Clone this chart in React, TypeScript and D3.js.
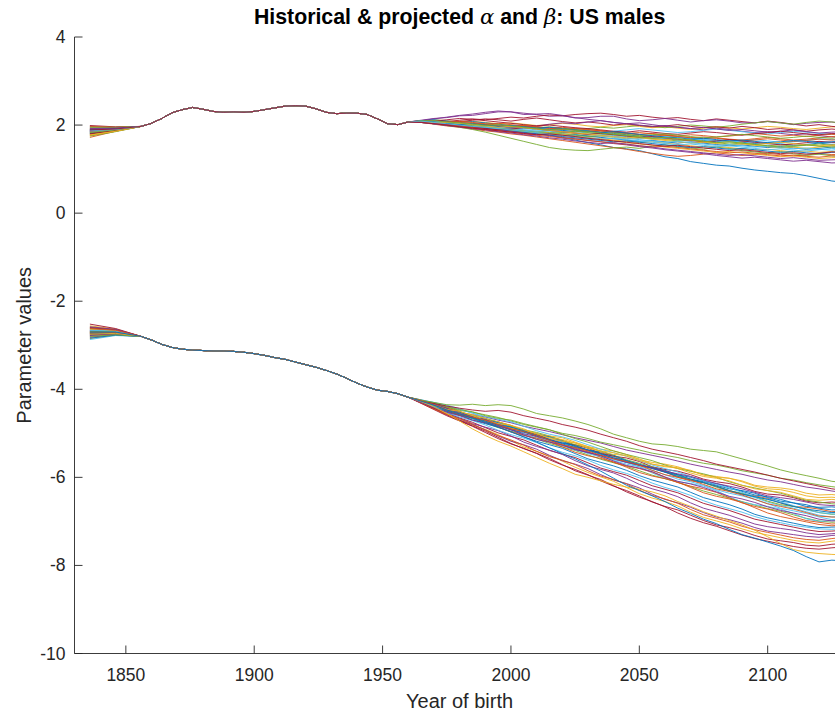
import React from "react";
import * as d3 from "d3";

// ---------- DATA ----------
const xTicks = [1850, 1900, 1950, 2000, 2050, 2100];
const yTicks = [-10, -8, -6, -4, -2, 0, 2, 4];

// common historical path (all simulations coincide), every 4 years
const histYears = [1856,1860,1864,1868,1872,1876,1880,1884,1888,1892,1896,1900,1904,1908,1912,1916,1920,1924,1928,1932,1936,1940,1944,1948,1952,1956,1960];
const alphaHist = [1.97,2.04,2.15,2.28,2.35,2.40,2.36,2.31,2.29,2.30,2.29,2.31,2.35,2.39,2.43,2.44,2.43,2.37,2.29,2.26,2.27,2.27,2.24,2.14,2.03,2.01,2.07];
const betaHist = [-2.80,-2.88,-2.98,-3.05,-3.09,-3.11,-3.12,-3.13,-3.13,-3.14,-3.16,-3.19,-3.23,-3.28,-3.32,-3.38,-3.44,-3.50,-3.57,-3.65,-3.75,-3.86,-3.95,-4.02,-4.05,-4.10,-4.18];

// early spread of each simulation (years 1836 and 1846)
const earlyYears = [1836, 1846];
const alphaStart = [1.85,1.72,1.90,1.96,1.80,1.88,1.99,1.83,1.76,1.92,1.86,1.79,1.94,1.87,1.81,1.97,1.84,1.89,1.75,1.91,1.82,1.86,1.93,1.78,1.88,1.95,1.84,1.80,1.90,1.86,1.77,1.92,1.83,1.87,1.89];
const alphaEarly = [1.91,1.86,1.92,1.95,1.88,1.91,1.96,1.89,1.86,1.93,1.90,1.87,1.94,1.91,1.88,1.95,1.89,1.92,1.85,1.93,1.88,1.90,1.94,1.87,1.91,1.95,1.89,1.88,1.92,1.90,1.86,1.93,1.89,1.90,1.91];
const betaStart = [-2.70,-2.62,-2.75,-2.58,-2.80,-2.66,-2.52,-2.84,-2.72,-2.64,-2.78,-2.68,-2.87,-2.60,-2.74,-2.69,-2.56,-2.82,-2.71,-2.65,-2.77,-2.63,-2.73,-2.85,-2.67,-2.59,-2.79,-2.70,-2.76,-2.61,-2.81,-2.66,-2.72,-2.68,-2.74];
const betaEarly = [-2.70,-2.66,-2.73,-2.64,-2.76,-2.68,-2.62,-2.77,-2.71,-2.67,-2.74,-2.69,-2.78,-2.65,-2.72,-2.70,-2.63,-2.76,-2.71,-2.67,-2.74,-2.66,-2.72,-2.77,-2.69,-2.64,-2.75,-2.70,-2.73,-2.65,-2.76,-2.68,-2.71,-2.69,-2.72];

// projected years (every 5 years)
const projYears = [1965,1970,1975,1980,1985,1990,1995,2000,2005,2010,2015,2020,2025,2030,2035,2040,2045,2050,2055,2060,2065,2070,2075,2080,2085,2090,2095,2100,2105,2110,2115,2120,2125,2130];

const alphaPaths = [
  [2.07,2.05,2.02,1.99,1.97,1.93,1.90,1.88,1.84,1.80,1.77,1.71,1.66,1.60,1.55,1.49,1.46,1.42,1.35,1.28,1.24,1.17,1.13,1.09,1.07,1.02,0.98,0.95,0.92,0.90,0.85,0.79,0.73,0.70],
  [2.06,2.02,1.98,1.95,1.91,1.87,1.84,1.80,1.77,1.73,1.69,1.65,1.61,1.57,1.53,1.49,1.45,1.40,1.36,1.32,1.29,1.31,1.34,1.37,1.34,1.31,1.33,1.36,1.33,1.30,1.32,1.35,1.33,1.34],
  [2.09,2.12,2.10,2.07,2.09,2.06,2.03,2.05,2.02,1.99,2.01,2.04,2.02,1.98,1.96,1.99,2.01,1.97,1.94,1.96,1.93,1.90,1.93,1.96,1.94,1.91,1.94,1.97,1.95,1.92,1.90,1.93,1.96,1.95],
  [2.10,2.14,2.18,2.22,2.25,2.29,2.32,2.30,2.27,2.24,2.20,2.21,2.17,2.13,2.10,2.06,2.03,2.05,2.01,1.97,1.95,1.92,1.89,1.93,1.90,1.86,1.83,1.85,1.81,1.78,1.80,1.76,1.73,1.75],
  [2.06,2.03,1.99,1.95,1.90,1.84,1.77,1.70,1.63,1.56,1.49,1.45,1.43,1.42,1.45,1.48,1.50,1.47,1.52,1.55,1.51,1.48,1.45,1.50,1.47,1.42,1.39,1.36,1.40,1.35,1.31,1.34,1.30,1.27],
  [2.09,2.11,2.09,2.06,2.03,2.01,1.98,1.95,1.92,1.94,1.91,1.88,1.90,1.87,1.84,1.86,1.89,1.92,1.89,1.86,1.83,1.85,1.88,1.91,1.88,1.85,1.82,1.80,1.83,1.86,1.84,1.81,1.79,1.82],
  [2.08,2.10,2.08,2.11,2.14,2.12,2.15,2.18,2.16,2.20,2.23,2.21,2.24,2.26,2.27,2.24,2.20,2.22,2.18,2.15,2.17,2.13,2.10,2.14,2.11,2.08,2.05,2.09,2.06,2.02,1.98,2.01,1.97,1.95],
  [2.10,2.12,2.09,2.06,2.08,2.05,2.02,1.99,1.96,1.93,1.90,1.88,1.85,1.87,1.84,1.81,1.78,1.75,1.72,1.69,1.66,1.68,1.65,1.62,1.64,1.61,1.58,1.60,1.57,1.54,1.56,1.59,1.56,1.58],
  [2.08,2.05,2.03,2.06,2.04,2.01,1.98,1.96,1.99,1.96,1.93,1.90,1.93,1.90,1.87,1.84,1.82,1.79,1.81,1.78,1.75,1.78,1.76,1.73,1.75,1.78,1.81,1.78,1.75,1.77,1.74,1.77,1.79,1.76],
  [2.08,2.04,2.01,1.97,1.94,1.91,1.88,1.85,1.87,1.84,1.81,1.78,1.75,1.72,1.69,1.66,1.63,1.60,1.62,1.59,1.56,1.53,1.50,1.52,1.49,1.46,1.43,1.45,1.42,1.39,1.41,1.38,1.40,1.42],
  [2.11,2.15,2.17,2.21,2.22,2.26,2.30,2.30,2.24,2.25,2.26,2.22,2.16,2.17,2.20,2.20,2.14,2.10,2.12,2.15,2.11,2.07,2.10,2.12,2.09,2.05,2.05,2.08,2.05,2.01,2.04,2.06,2.07,2.03],
  [2.07,2.05,2.04,2.01,1.99,2.02,1.98,1.95,1.97,1.94,1.96,1.93,1.90,1.92,1.95,1.93,1.96,1.99,1.97,1.94,1.97,2.00,1.98,1.95,1.98,2.02,2.05,2.08,2.05,2.02,2.06,2.09,2.07,2.04],
  [2.06,2.03,2.01,1.98,2.00,1.98,1.95,1.92,1.89,1.86,1.84,1.81,1.79,1.76,1.73,1.75,1.72,1.69,1.72,1.75,1.73,1.70,1.67,1.65,1.62,1.64,1.67,1.64,1.61,1.63,1.66,1.69,1.67,1.66],
  [2.06,2.03,2.05,2.08,2.11,2.14,2.12,2.09,2.13,2.16,2.12,2.08,2.05,2.07,2.04,2.00,2.03,1.99,1.96,1.98,2.01,1.97,1.94,1.96,1.93,1.97,1.94,1.90,1.92,1.89,1.86,1.89,1.91,1.88],
  [2.08,2.06,2.04,2.01,1.97,1.94,1.91,1.88,1.85,1.82,1.79,1.76,1.78,1.75,1.72,1.69,1.66,1.63,1.65,1.62,1.59,1.62,1.59,1.56,1.53,1.55,1.52,1.49,1.51,1.48,1.45,1.47,1.50,1.49],
  [2.07,2.04,2.06,2.03,2.05,2.02,2.04,2.01,1.98,1.96,1.93,1.95,1.92,1.89,1.87,1.84,1.81,1.78,1.75,1.77,1.74,1.72,1.69,1.71,1.68,1.66,1.69,1.72,1.69,1.66,1.68,1.71,1.74,1.71],
  [2.07,2.05,2.02,1.99,1.97,1.94,1.91,1.88,1.85,1.82,1.79,1.76,1.73,1.70,1.67,1.64,1.60,1.57,1.54,1.50,1.47,1.44,1.41,1.38,1.40,1.37,1.34,1.31,1.28,1.30,1.27,1.24,1.26,1.27],
  [2.08,2.06,2.02,2.00,1.96,1.99,1.97,1.93,1.95,1.98,2.02,2.05,2.03,2.07,2.10,2.06,2.03,2.00,1.97,1.99,1.95,1.92,1.95,1.91,1.88,1.90,1.87,1.84,1.86,1.89,1.85,1.82,1.84,1.85],
  [2.08,2.06,2.03,1.99,1.96,1.93,1.90,1.87,1.84,1.86,1.83,1.80,1.77,1.74,1.76,1.79,1.76,1.73,1.70,1.67,1.64,1.66,1.63,1.60,1.57,1.59,1.56,1.53,1.55,1.52,1.54,1.57,1.54,1.55],
  [2.07,2.08,2.05,2.03,2.00,1.96,1.93,1.90,1.92,1.89,1.86,1.83,1.85,1.82,1.79,1.76,1.74,1.71,1.68,1.70,1.73,1.70,1.67,1.64,1.61,1.63,1.60,1.57,1.59,1.62,1.65,1.62,1.60,1.62],
  [2.07,2.09,2.12,2.15,2.13,2.10,2.07,2.04,2.01,1.98,2.00,1.97,1.94,1.92,1.89,1.86,1.84,1.87,1.84,1.81,1.79,1.82,1.85,1.83,1.80,1.77,1.80,1.83,1.86,1.83,1.80,1.78,1.81,1.80],
  [2.07,2.04,2.02,1.99,1.96,1.93,1.90,1.86,1.83,1.80,1.77,1.74,1.71,1.68,1.65,1.62,1.64,1.61,1.58,1.55,1.52,1.49,1.51,1.48,1.45,1.47,1.44,1.41,1.38,1.40,1.37,1.35,1.38,1.40],
  [2.08,2.10,2.07,2.09,2.06,2.03,2.00,1.97,1.99,1.96,1.93,1.91,1.88,1.85,1.87,1.84,1.81,1.83,1.80,1.77,1.74,1.71,1.73,1.70,1.67,1.64,1.66,1.69,1.66,1.63,1.65,1.68,1.66,1.68],
  [2.06,2.04,2.01,1.98,1.95,1.97,1.94,1.91,1.88,1.85,1.82,1.79,1.81,1.78,1.75,1.72,1.69,1.71,1.68,1.65,1.62,1.59,1.61,1.58,1.55,1.57,1.54,1.51,1.48,1.50,1.47,1.50,1.53,1.51],
  [2.08,2.05,2.02,1.98,1.95,1.92,1.89,1.86,1.82,1.79,1.76,1.72,1.69,1.65,1.62,1.58,1.55,1.51,1.48,1.44,1.41,1.38,1.35,1.31,1.28,1.25,1.27,1.24,1.21,1.18,1.20,1.17,1.14,1.15],
  [2.10,2.08,2.05,2.02,1.99,1.97,1.94,1.90,1.87,1.84,1.81,1.83,1.86,1.83,1.80,1.82,1.79,1.76,1.78,1.80,1.77,1.74,1.71,1.73,1.76,1.79,1.76,1.73,1.70,1.72,1.75,1.72,1.70,1.74],
  [2.07,2.09,2.06,2.04,2.01,1.98,1.95,1.92,1.89,1.86,1.88,1.85,1.82,1.79,1.76,1.73,1.70,1.67,1.64,1.61,1.63,1.60,1.57,1.54,1.56,1.53,1.50,1.52,1.49,1.46,1.48,1.45,1.43,1.47],
  [2.08,2.05,2.02,1.98,1.95,1.92,1.89,1.91,1.94,1.91,1.88,1.85,1.82,1.79,1.81,1.78,1.75,1.72,1.74,1.71,1.68,1.65,1.62,1.64,1.67,1.64,1.61,1.58,1.55,1.57,1.60,1.63,1.61,1.60],
  [2.09,2.07,2.04,2.01,2.03,2.00,1.97,1.99,1.96,1.93,1.95,1.92,1.89,1.86,1.83,1.85,1.82,1.79,1.76,1.73,1.71,1.68,1.70,1.67,1.64,1.66,1.63,1.60,1.62,1.65,1.63,1.60,1.62,1.64],
  [2.08,2.05,2.01,1.98,1.94,1.90,1.87,1.84,1.80,1.77,1.74,1.71,1.68,1.65,1.62,1.59,1.56,1.53,1.50,1.52,1.49,1.46,1.43,1.40,1.37,1.39,1.36,1.33,1.30,1.32,1.29,1.27,1.30,1.31],
  [2.07,2.05,2.06,2.04,2.01,1.98,1.95,1.97,1.94,1.91,1.88,1.85,1.82,1.80,1.77,1.74,1.71,1.73,1.70,1.67,1.69,1.66,1.63,1.60,1.62,1.59,1.56,1.58,1.61,1.58,1.55,1.53,1.55,1.57],
  [2.06,2.03,1.99,1.96,1.92,1.89,1.85,1.82,1.78,1.75,1.71,1.68,1.64,1.61,1.58,1.60,1.57,1.53,1.50,1.46,1.43,1.40,1.37,1.34,1.31,1.33,1.30,1.27,1.24,1.26,1.23,1.20,1.21,1.22],
  [2.09,2.10,2.07,2.05,2.02,1.99,2.01,1.98,1.95,1.92,1.89,1.91,1.88,1.85,1.82,1.79,1.76,1.73,1.70,1.72,1.69,1.66,1.63,1.60,1.62,1.59,1.56,1.53,1.50,1.52,1.55,1.52,1.50,1.53],
  [2.09,2.06,2.03,2.00,1.97,1.95,1.92,1.89,1.86,1.83,1.80,1.77,1.74,1.71,1.68,1.70,1.67,1.64,1.61,1.58,1.55,1.57,1.54,1.51,1.53,1.50,1.47,1.44,1.46,1.43,1.41,1.44,1.47,1.45],
  [2.06,2.03,2.00,1.96,1.93,1.90,1.87,1.84,1.81,1.78,1.80,1.77,1.74,1.70,1.67,1.64,1.61,1.58,1.55,1.52,1.54,1.51,1.48,1.45,1.42,1.44,1.41,1.38,1.35,1.37,1.34,1.36,1.39,1.37],
];

const betaPaths = [
  [-4.27,-4.36,-4.47,-4.56,-4.66,-4.75,-4.86,-4.97,-5.08,-5.20,-5.33,-5.46,-5.58,-5.72,-5.86,-6.02,-6.18,-6.30,-6.42,-6.55,-6.70,-6.82,-6.95,-7.05,-7.18,-7.30,-7.38,-7.47,-7.56,-7.66,-7.80,-7.92,-7.88,-7.90],
  [-4.26,-4.35,-4.47,-4.57,-4.63,-4.70,-4.80,-4.90,-4.96,-5.04,-5.16,-5.26,-5.32,-5.40,-5.50,-5.58,-5.64,-5.72,-5.84,-5.94,-6.00,-6.06,-6.16,-6.26,-6.32,-6.40,-6.50,-6.60,-6.66,-6.72,-6.80,-6.88,-6.90,-6.91],
  [-4.28,-4.40,-4.55,-4.72,-4.90,-5.05,-5.18,-5.29,-5.42,-5.55,-5.68,-5.80,-5.93,-6.00,-6.08,-6.16,-6.22,-6.27,-6.33,-6.42,-6.55,-6.66,-6.78,-6.88,-6.98,-7.08,-7.20,-7.35,-7.50,-7.64,-7.70,-7.73,-7.75,-7.76],
  [-4.30,-4.42,-4.52,-4.60,-4.70,-4.76,-4.84,-4.92,-5.04,-5.14,-5.20,-5.26,-5.36,-5.44,-5.50,-5.58,-5.66,-5.72,-5.78,-5.86,-5.92,-5.98,-6.06,-6.14,-6.20,-6.26,-6.34,-6.42,-6.46,-6.50,-6.56,-6.62,-6.64,-6.66],
  [-4.25,-4.30,-4.35,-4.36,-4.34,-4.37,-4.35,-4.37,-4.45,-4.55,-4.60,-4.65,-4.72,-4.80,-4.90,-5.02,-5.10,-5.18,-5.24,-5.26,-5.30,-5.36,-5.39,-5.42,-5.50,-5.58,-5.66,-5.74,-5.83,-5.90,-5.96,-6.02,-6.09,-6.12],
  [-4.28,-4.39,-4.53,-4.63,-4.71,-4.81,-4.93,-5.03,-5.11,-5.21,-5.33,-5.43,-5.51,-5.61,-5.73,-5.83,-5.91,-6.01,-6.13,-6.23,-6.31,-6.41,-6.53,-6.63,-6.71,-6.79,-6.89,-6.97,-7.03,-7.09,-7.13,-7.17,-7.18,-7.16],
  [-4.26,-4.32,-4.38,-4.43,-4.47,-4.50,-4.48,-4.52,-4.60,-4.66,-4.72,-4.80,-4.86,-4.93,-5.02,-5.10,-5.18,-5.28,-5.36,-5.42,-5.48,-5.55,-5.62,-5.70,-5.76,-5.82,-5.88,-5.95,-6.02,-6.08,-6.14,-6.20,-6.26,-6.30],
  [-4.29,-4.39,-4.50,-4.58,-4.64,-4.72,-4.82,-4.92,-4.98,-5.04,-5.14,-5.24,-5.32,-5.38,-5.46,-5.56,-5.66,-5.72,-5.78,-5.88,-5.98,-6.06,-6.12,-6.20,-6.30,-6.38,-6.44,-6.50,-6.58,-6.66,-6.72,-6.76,-6.80,-6.79],
  [-4.31,-4.45,-4.57,-4.67,-4.79,-4.93,-5.05,-5.15,-5.27,-5.41,-5.53,-5.61,-5.71,-5.85,-5.97,-6.05,-6.15,-6.29,-6.41,-6.49,-6.59,-6.73,-6.85,-6.93,-7.01,-7.11,-7.19,-7.25,-7.31,-7.37,-7.41,-7.43,-7.39,-7.36],
  [-4.26,-4.38,-4.46,-4.50,-4.60,-4.72,-4.78,-4.82,-4.90,-5.02,-5.10,-5.14,-5.22,-5.34,-5.40,-5.44,-5.52,-5.62,-5.70,-5.74,-5.80,-5.90,-5.98,-6.02,-6.08,-6.18,-6.26,-6.30,-6.34,-6.42,-6.50,-6.52,-6.50,-6.53],
  [-4.25,-4.33,-4.43,-4.55,-4.63,-4.69,-4.79,-4.91,-5.01,-5.07,-5.15,-5.27,-5.37,-5.43,-5.51,-5.63,-5.73,-5.79,-5.87,-5.99,-6.09,-6.15,-6.23,-6.33,-6.43,-6.49,-6.57,-6.67,-6.75,-6.81,-6.87,-6.95,-6.99,-6.97],
  [-4.25,-4.31,-4.40,-4.46,-4.51,-4.60,-4.66,-4.70,-4.78,-4.85,-4.92,-5.00,-5.05,-5.12,-5.20,-5.26,-5.32,-5.38,-5.45,-5.50,-5.55,-5.62,-5.68,-5.72,-5.78,-5.85,-5.90,-5.95,-6.02,-6.06,-6.12,-6.17,-6.21,-6.25],
  [-4.24,-4.30,-4.38,-4.46,-4.54,-4.62,-4.68,-4.74,-4.84,-4.94,-5.02,-5.08,-5.16,-5.26,-5.36,-5.44,-5.52,-5.62,-5.72,-5.80,-5.88,-5.98,-6.08,-6.16,-6.24,-6.34,-6.44,-6.50,-6.56,-6.64,-6.74,-6.80,-6.83,-6.85],
  [-4.32,-4.46,-4.60,-4.72,-4.84,-4.98,-5.12,-5.24,-5.34,-5.46,-5.60,-5.72,-5.82,-5.94,-6.08,-6.20,-6.30,-6.42,-6.56,-6.66,-6.74,-6.86,-6.98,-7.08,-7.14,-7.22,-7.32,-7.40,-7.44,-7.48,-7.54,-7.56,-7.52,-7.50],
  [-4.28,-4.37,-4.46,-4.52,-4.62,-4.72,-4.80,-4.86,-4.94,-5.06,-5.16,-5.22,-5.28,-5.38,-5.48,-5.56,-5.62,-5.70,-5.80,-5.88,-5.94,-6.00,-6.08,-6.18,-6.26,-6.30,-6.36,-6.46,-6.54,-6.58,-6.62,-6.70,-6.74,-6.73],
  [-4.26,-4.37,-4.49,-4.59,-4.65,-4.73,-4.85,-4.97,-5.05,-5.11,-5.19,-5.31,-5.43,-5.51,-5.57,-5.65,-5.77,-5.89,-5.97,-6.03,-6.11,-6.23,-6.35,-6.43,-6.49,-6.57,-6.69,-6.81,-6.89,-6.95,-7.01,-7.07,-7.10,-7.08],
  [-4.24,-4.33,-4.45,-4.53,-4.57,-4.66,-4.80,-4.88,-4.93,-5.00,-5.12,-5.18,-5.22,-5.30,-5.42,-5.48,-5.50,-5.58,-5.70,-5.76,-5.78,-5.84,-5.95,-6.00,-6.02,-6.08,-6.18,-6.22,-6.24,-6.28,-6.36,-6.40,-6.39,-6.42],
  [-4.29,-4.40,-4.52,-4.66,-4.78,-4.86,-4.94,-5.06,-5.20,-5.30,-5.38,-5.48,-5.62,-5.74,-5.82,-5.90,-6.02,-6.16,-6.26,-6.34,-6.44,-6.58,-6.70,-6.78,-6.86,-6.96,-7.06,-7.12,-7.16,-7.20,-7.26,-7.30,-7.28,-7.25],
  [-4.27,-4.33,-4.40,-4.48,-4.52,-4.58,-4.64,-4.72,-4.80,-4.86,-4.92,-5.02,-5.12,-5.20,-5.30,-5.40,-5.48,-5.55,-5.62,-5.72,-5.80,-5.86,-5.92,-6.00,-6.10,-6.18,-6.24,-6.30,-6.36,-6.44,-6.52,-6.56,-6.60,-6.62],
  [-4.28,-4.38,-4.46,-4.56,-4.66,-4.74,-4.82,-4.92,-5.02,-5.10,-5.18,-5.28,-5.38,-5.44,-5.52,-5.62,-5.70,-5.76,-5.84,-5.94,-6.04,-6.10,-6.18,-6.28,-6.36,-6.42,-6.50,-6.60,-6.70,-6.76,-6.82,-6.90,-6.96,-6.94],
  [-4.30,-4.43,-4.57,-4.71,-4.83,-4.95,-5.09,-5.23,-5.35,-5.45,-5.57,-5.71,-5.85,-5.95,-6.05,-6.19,-6.33,-6.45,-6.55,-6.67,-6.81,-6.93,-7.03,-7.11,-7.21,-7.31,-7.39,-7.45,-7.51,-7.57,-7.61,-7.63,-7.60,-7.58],
  [-4.25,-4.32,-4.44,-4.56,-4.64,-4.68,-4.76,-4.86,-4.96,-5.02,-5.08,-5.18,-5.30,-5.38,-5.42,-5.50,-5.62,-5.72,-5.78,-5.84,-5.94,-6.04,-6.10,-6.14,-6.22,-6.32,-6.40,-6.44,-6.50,-6.58,-6.66,-6.68,-6.67,-6.70],
  [-4.27,-4.34,-4.42,-4.52,-4.64,-4.74,-4.82,-4.88,-4.96,-5.08,-5.20,-5.28,-5.34,-5.42,-5.54,-5.66,-5.74,-5.80,-5.88,-6.00,-6.12,-6.20,-6.26,-6.34,-6.46,-6.58,-6.66,-6.72,-6.80,-6.90,-6.98,-7.02,-7.06,-7.04],
  [-4.30,-4.36,-4.42,-4.54,-4.64,-4.68,-4.74,-4.82,-4.94,-5.02,-5.06,-5.10,-5.20,-5.30,-5.36,-5.40,-5.48,-5.60,-5.66,-5.70,-5.76,-5.86,-5.94,-5.98,-6.02,-6.10,-6.20,-6.26,-6.28,-6.34,-6.42,-6.46,-6.45,-6.48],
  [-4.30,-4.44,-4.58,-4.70,-4.80,-4.92,-5.06,-5.18,-5.26,-5.36,-5.50,-5.62,-5.70,-5.80,-5.94,-6.06,-6.14,-6.24,-6.38,-6.50,-6.58,-6.68,-6.80,-6.90,-6.96,-7.04,-7.14,-7.22,-7.26,-7.30,-7.34,-7.36,-7.32,-7.30],
  [-4.27,-4.36,-4.43,-4.52,-4.60,-4.66,-4.74,-4.84,-4.92,-4.98,-5.06,-5.16,-5.26,-5.32,-5.40,-5.50,-5.60,-5.68,-5.76,-5.86,-5.96,-6.04,-6.12,-6.22,-6.30,-6.36,-6.44,-6.54,-6.62,-6.66,-6.72,-6.80,-6.84,-6.82],
  [-4.24,-4.30,-4.36,-4.44,-4.54,-4.66,-4.78,-4.88,-4.94,-5.00,-5.08,-5.20,-5.34,-5.46,-5.54,-5.60,-5.66,-5.76,-5.90,-6.02,-6.10,-6.14,-6.20,-6.30,-6.44,-6.56,-6.62,-6.66,-6.72,-6.82,-6.94,-7.00,-6.98,-6.95],
  [-4.29,-4.35,-4.48,-4.58,-4.62,-4.70,-4.82,-4.90,-4.94,-5.02,-5.14,-5.22,-5.26,-5.34,-5.46,-5.52,-5.56,-5.64,-5.76,-5.82,-5.86,-5.94,-6.04,-6.10,-6.14,-6.22,-6.32,-6.38,-6.40,-6.46,-6.54,-6.58,-6.56,-6.58],
  [-4.30,-4.38,-4.46,-4.58,-4.70,-4.78,-4.86,-4.96,-5.08,-5.18,-5.26,-5.34,-5.46,-5.58,-5.66,-5.74,-5.84,-5.96,-6.06,-6.14,-6.22,-6.34,-6.46,-6.54,-6.62,-6.72,-6.84,-6.92,-6.98,-7.04,-7.10,-7.14,-7.13,-7.12],
  [-4.26,-4.34,-4.40,-4.50,-4.62,-4.70,-4.74,-4.82,-4.94,-5.04,-5.08,-5.16,-5.28,-5.38,-5.44,-5.52,-5.64,-5.74,-5.80,-5.88,-6.00,-6.08,-6.12,-6.20,-6.30,-6.38,-6.42,-6.48,-6.58,-6.66,-6.68,-6.72,-6.78,-6.76],
  [-4.29,-4.41,-4.55,-4.69,-4.81,-4.91,-5.03,-5.17,-5.31,-5.41,-5.51,-5.63,-5.77,-5.89,-5.99,-6.09,-6.23,-6.37,-6.47,-6.55,-6.65,-6.79,-6.91,-6.99,-7.07,-7.17,-7.25,-7.31,-7.37,-7.43,-7.47,-7.49,-7.45,-7.42],
  [-4.28,-4.37,-4.44,-4.52,-4.58,-4.63,-4.70,-4.76,-4.84,-4.90,-4.96,-5.03,-5.10,-5.16,-5.22,-5.30,-5.38,-5.44,-5.50,-5.56,-5.63,-5.70,-5.76,-5.82,-5.88,-5.93,-6.00,-6.06,-6.10,-6.16,-6.22,-6.26,-6.31,-6.35],
  [-4.29,-4.41,-4.51,-4.59,-4.67,-4.77,-4.87,-4.95,-5.03,-5.13,-5.23,-5.31,-5.39,-5.49,-5.59,-5.67,-5.75,-5.85,-5.95,-6.03,-6.11,-6.21,-6.31,-6.39,-6.47,-6.55,-6.63,-6.71,-6.77,-6.85,-6.93,-6.99,-7.02,-7.00],
  [-4.30,-4.40,-4.48,-4.54,-4.64,-4.74,-4.80,-4.86,-4.96,-5.06,-5.12,-5.20,-5.30,-5.40,-5.46,-5.54,-5.64,-5.72,-5.78,-5.88,-5.98,-6.04,-6.12,-6.22,-6.32,-6.38,-6.46,-6.56,-6.64,-6.70,-6.78,-6.86,-6.90,-6.88],
  [-4.31,-4.43,-4.55,-4.65,-4.75,-4.87,-4.99,-5.07,-5.15,-5.27,-5.39,-5.47,-5.55,-5.67,-5.79,-5.87,-5.95,-6.07,-6.19,-6.27,-6.35,-6.47,-6.59,-6.67,-6.75,-6.85,-6.95,-7.01,-7.07,-7.13,-7.19,-7.23,-7.22,-7.20],
];

const palette = ["#0072BD", "#D95319", "#EDB120", "#7E2F8E", "#77AC30", "#4DBEEE", "#A2142F"];

// ---------- LAYOUT ----------
const W = 835;
const H = 711;
const x = d3.scaleLinear().domain([1830, 2130]).range([74.5, 844.7]);
const y = d3.scaleLinear().domain([-10, 4]).range([653.5, 37]);
const axisColor = "#262626";
const font = "'Liberation Sans', Arial, Helvetica, sans-serif";

type Pt = [number, number];

function buildSeries(start: number[], early: number[], hist: number[], paths: number[][]): Pt[][] {
  return paths.map((p, i) => {
    const pts: Pt[] = [];
    pts.push([earlyYears[0], start[i]]);
    pts.push([earlyYears[1], early[i]]);
    histYears.forEach((yr, j) => pts.push([yr, hist[j]]));
    p.forEach((v, j) => {
      if (j < projYears.length) pts.push([projYears[j], v]);
    });
    return pts;
  });
}

const line = d3
  .line<Pt>()
  .x((d) => x(d[0]))
  .y((d) => y(d[1]));

export default function App() {
  const alphaSeries = buildSeries(alphaStart, alphaEarly, alphaHist, alphaPaths);
  const betaSeries = buildSeries(betaStart, betaEarly, betaHist, betaPaths);
  const x0 = x.range()[0];
  const y0 = y.range()[0];
  const yTop = y.range()[1];
  const xRight = x.range()[1];

  return (
    <svg
      width={W}
      height={H}
      viewBox={`0 0 ${W} ${H}`}
      style={{ position: "absolute", left: 0, top: 0, background: "#fff" }}
    >
      <rect x={0} y={0} width={W} height={H} fill="#fff" />
      <g fill="none" strokeWidth={0.9} strokeLinejoin="round">
        {alphaSeries.map((s, i) => (
          <path key={"a" + i} d={line(s) || ""} stroke={palette[i % palette.length]} />
        ))}
        {betaSeries
          .map((s, i) => ({ s, i }))
          .reverse()
          .map(({ s, i }) => (
            <path key={"b" + i} d={line(s) || ""} stroke={palette[i % palette.length]} />
          ))}
      </g>

      {/* axes */}
      <g stroke={axisColor} strokeWidth={0.9} fill="none">
        <line x1={x0} x2={x0} y1={yTop} y2={y0} />
        <line x1={x0} x2={xRight} y1={y0} y2={y0} />
        {yTicks.map((t) => (
          <line key={"yt" + t} x1={x0} x2={x0 + 8} y1={y(t)} y2={y(t)} />
        ))}
        {xTicks.map((t) => (
          <line key={"xt" + t} x1={x(t)} x2={x(t)} y1={y0} y2={y0 - 8} />
        ))}
      </g>
      <g fontFamily={font} fontSize={17.5} fill={axisColor}>
        {yTicks.map((t) => (
          <text key={"yl" + t} x={x0 - 9} y={y(t)} textAnchor="end" dominantBaseline="central">
            {t}
          </text>
        ))}
        {xTicks.map((t) => (
          <text key={"xl" + t} x={x(t)} y={y0 + 27} textAnchor="middle">
            {t}
          </text>
        ))}
      </g>
      <text
        x={(x0 + xRight) / 2}
        y={708}
        textAnchor="middle"
        fontFamily={font}
        fontSize={20}
        fill={axisColor}
      >
        Year of birth
      </text>
      <text
        transform={`translate(31, ${(y0 + yTop) / 2}) rotate(-90)`}
        textAnchor="middle"
        fontFamily={font}
        fontSize={20}
        fill={axisColor}
      >
        Parameter values
      </text>
      <text
        x={(x0 + xRight) / 2}
        y={24}
        textAnchor="middle"
        fontFamily={font}
        fontSize={21.3}
        fontWeight="bold"
        fill="#000"
      >
        {"Historical & projected "}
        <tspan fontFamily="'DejaVu Serif', 'Liberation Serif', serif" fontStyle="italic" fontWeight="normal">
          α
        </tspan>
        {" and "}
        <tspan fontFamily="'DejaVu Serif', 'Liberation Serif', serif" fontStyle="italic" fontWeight="normal">
          β
        </tspan>
        {": US males"}
      </text>
    </svg>
  );
}
